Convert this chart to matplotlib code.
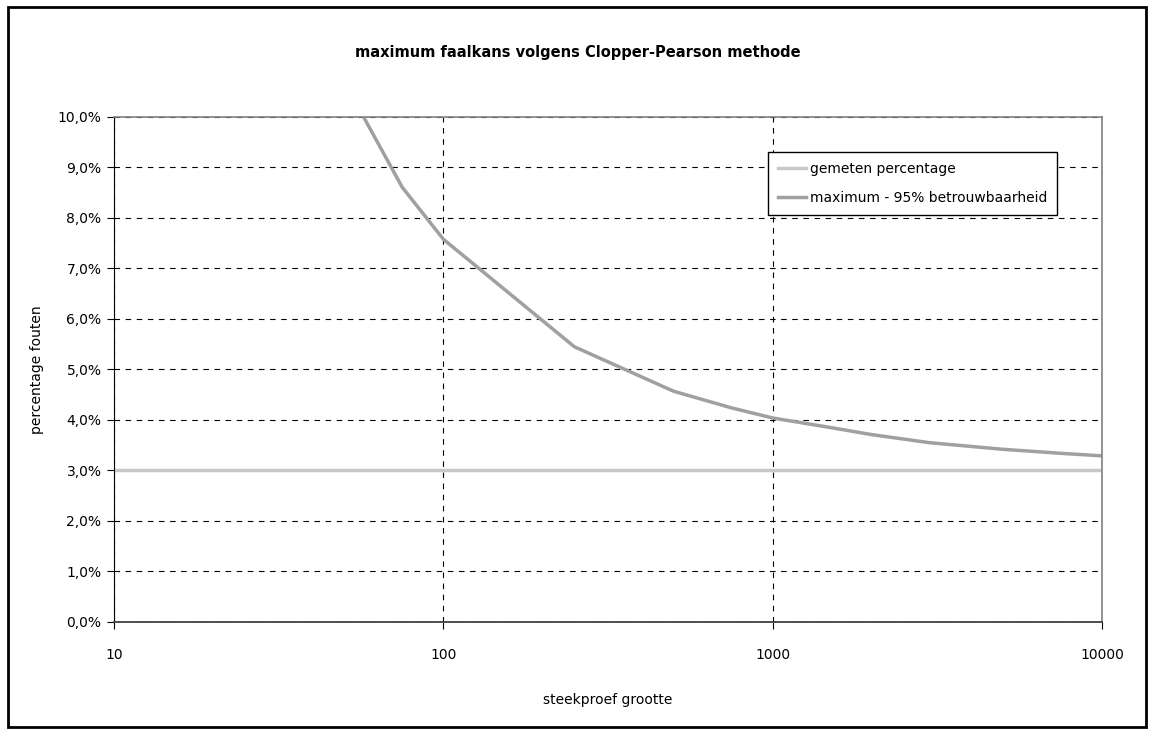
import matplotlib.pyplot as plt
from matplotlib.patches import Rectangle
from matplotlib.ticker import FuncFormatter, FixedLocator, NullLocator

# steekproef grootte en bovengrens (in %)
n_values = [50, 75, 100, 250, 500, 750, 1000, 1500, 2000, 3000, 5000, 7500, 10000]
max_pct = [10.7, 8.61, 7.58, 5.45, 4.57, 4.24, 4.04, 3.85, 3.71, 3.55, 3.42, 3.34, 3.29]

gemeten_n = [10, 10000]
gemeten_pct = [3.0, 3.0]

x_ticks = [10, 100, 1000, 10000]
y_ticks = [0, 1, 2, 3, 4, 5, 6, 7, 8, 9, 10]

plt.rcParams['font.family'] = ['DejaVu Sans']

fig = plt.figure(figsize=(11.55, 7.34), dpi=100)
ax = fig.add_axes([0.0987, 0.1526, 0.8554, 0.688])

ax.plot(gemeten_n, gemeten_pct, color='#c8c8c8', linewidth=2.5, label='gemeten percentage')
ax.plot(n_values, max_pct, color='#a0a0a0', linewidth=2.5, label='maximum - 95% betrouwbaarheid')

ax.set_xscale('log')
ax.set_xlim(10, 10000)
ax.set_ylim(0, 10)
ax.xaxis.set_major_locator(FixedLocator(x_ticks))
ax.xaxis.set_minor_locator(NullLocator())
ax.xaxis.set_major_formatter(FuncFormatter(lambda v, p: '%d' % v))
ax.yaxis.set_major_locator(FixedLocator(y_ticks))
ax.yaxis.set_major_formatter(FuncFormatter(lambda v, p: ('%.1f%%' % v).replace('.', ',')))

ax.grid(True, which='major', color='black', linestyle=(0, (5, 5)), linewidth=0.8)
ax.set_axisbelow(True)

for side in ['top', 'right']:
    ax.spines[side].set_color('#808080')
    ax.spines[side].set_linewidth(1.2)
ax.spines['left'].set_color('black')
ax.spines['bottom'].set_color('#404040')
ax.spines['bottom'].set_linewidth(1.3)

ax.tick_params(axis='both', direction='out', length=5, labelsize=10, color='black')
ax.tick_params(axis='x', pad=14)
ax.tick_params(axis='y', pad=4)

ax.set_xlabel('steekproef grootte', fontsize=10, labelpad=22)
ax.set_ylabel('percentage fouten', fontsize=10, labelpad=10)

fig.text(0.5, 0.929, 'maximum faalkans volgens Clopper-Pearson methode',
         ha='center', va='center', fontsize=10.5, fontweight='bold')

leg = ax.legend(loc='upper left', bbox_to_anchor=(0.662, 0.931), fontsize=10,
                frameon=True, fancybox=False, edgecolor='black', framealpha=1,
                handlelength=2.0, handletextpad=0.3, borderpad=0.7,
                labelspacing=1.1, borderaxespad=0)
leg.get_frame().set_linewidth(1.0)

fig.patches.append(Rectangle((8 / 1155, 7 / 734), 1138 / 1155, 720 / 734,
                             transform=fig.transFigure, fill=False,
                             edgecolor='black', linewidth=2))

fig.savefig('out.png', dpi=100)
